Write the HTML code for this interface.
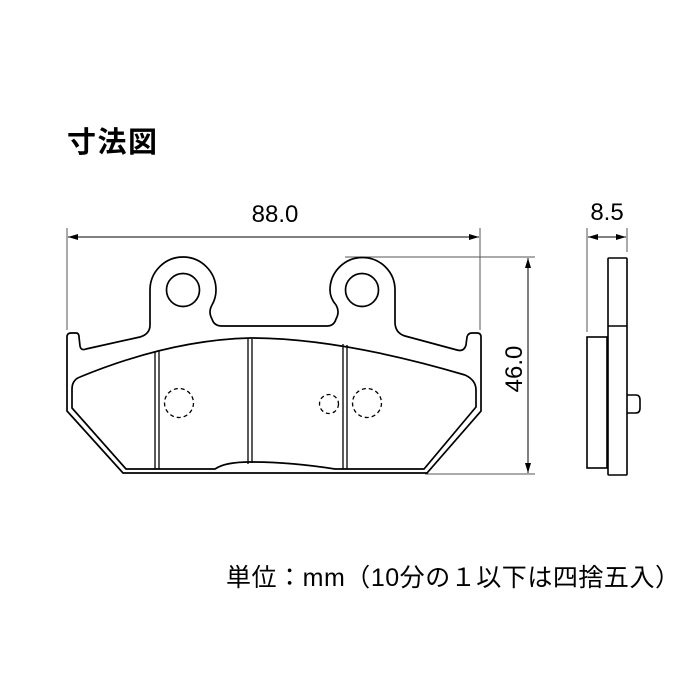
<!DOCTYPE html>
<html><head><meta charset="utf-8"><style>
html,body{margin:0;padding:0;background:#fff;}
svg{display:block;}
</style></head><body>
<svg width="700" height="700" viewBox="0 0 700 700" xmlns="http://www.w3.org/2000/svg">
<defs>
<marker id="ar" viewBox="0 0 10 6" refX="10" refY="3" markerWidth="10" markerHeight="6" orient="auto-start-reverse" markerUnits="userSpaceOnUse">
<path d="M0,0 L10,3 L0,6 z" fill="#000"/>
</marker>
</defs>
<text x="67" y="152" font-family="Liberation Sans, Noto Sans CJK JP, sans-serif" font-size="29" font-weight="bold" textLength="90">寸法図</text>

<line x1="67" y1="228" x2="67" y2="330" stroke="#555" stroke-width="1"/>
<line x1="480" y1="228" x2="480" y2="330" stroke="#555" stroke-width="1"/>
<line x1="68" y1="237" x2="479" y2="237" stroke="#000" stroke-width="1" marker-start="url(#ar)" marker-end="url(#ar)"/>
<text x="275" y="222" font-family="Liberation Sans, sans-serif" font-size="24" text-anchor="middle">88.0</text>

<line x1="345" y1="257" x2="535" y2="257" stroke="#555" stroke-width="1"/>
<line x1="425" y1="474" x2="535" y2="474" stroke="#555" stroke-width="1"/>
<line x1="528" y1="258" x2="528" y2="473" stroke="#000" stroke-width="1" marker-start="url(#ar)" marker-end="url(#ar)"/>
<text transform="translate(522,369) rotate(-90)" font-family="Liberation Sans, sans-serif" font-size="24" text-anchor="middle">46.0</text>

<g fill="none" stroke="#000" stroke-width="1.7">
<path d="M67,337 Q67,333 71,333 L76,333 Q79,333 79,337 L80,346 Q81,351 86,349 L140,337 Q150,334 150,325 L150,290 A33,33 0 0 1 216,290 Q216,298 212,305 Q208,312 212,319 Q214,326 222,326 L327,326 Q334,326 336,319 Q340,312 336,305 Q330,298 330,290 A32.5,32.5 0 0 1 395,290 L395,322 Q395,333 405,336 L457,350 Q464,352 466,345 L467,337 Q468,333 472,333 L477,333 Q481,333 481,337 L481,411 L427,473 L123,473 L67,411 Z"/>
<path d="M72,389 Q72,380 80,377 Q170,340 250,338 Q340,338 465,375 Q476,380 476,390 L476,407 L424,469 L335,469 Q290,462 250,462 Q225,462 215,469 L126,469 L72,408 Z"/>
<circle cx="183" cy="290" r="16.5"/>
<circle cx="362" cy="290" r="16.5"/>
</g>
<g stroke="#000" stroke-width="1.3">
<line x1="155" y1="352" x2="155" y2="469"/><line x1="159" y1="351" x2="159" y2="469"/>
<line x1="248" y1="339" x2="248" y2="464"/><line x1="252" y1="339" x2="252" y2="463"/>
<line x1="343" y1="344" x2="343" y2="469"/><line x1="347" y1="345" x2="347" y2="469"/>
</g>
<g fill="none" stroke="#000" stroke-width="1.3" stroke-dasharray="4,3">
<circle cx="179" cy="403" r="14.5"/>
<circle cx="329" cy="404" r="9.5"/>
<circle cx="367" cy="403" r="14.5"/>
</g>

<line x1="587" y1="228" x2="587" y2="332" stroke="#555" stroke-width="1"/>
<line x1="627" y1="228" x2="627" y2="252" stroke="#555" stroke-width="1"/>
<line x1="588" y1="237" x2="626" y2="237" stroke="#000" stroke-width="1" marker-start="url(#ar)" marker-end="url(#ar)"/>
<text x="607" y="220" font-family="Liberation Sans, sans-serif" font-size="24" text-anchor="middle">8.5</text>
<g fill="none" stroke="#000" stroke-width="1.6">
<rect x="587" y="337" width="20" height="131"/>
<rect x="608" y="258" width="19" height="217" rx="1"/>
<line x1="608" y1="326" x2="627" y2="326"/>
<path d="M627,395 L636,395 Q640,395 640,400 L640,408 Q640,413 636,413 L627,413"/>
</g>

<text x="226" y="586" font-family="Liberation Sans, Noto Sans CJK JP, sans-serif" font-size="25" textLength="454">単位：mm（10分の１以下は四捨五入）</text>
</svg>
</body></html>
